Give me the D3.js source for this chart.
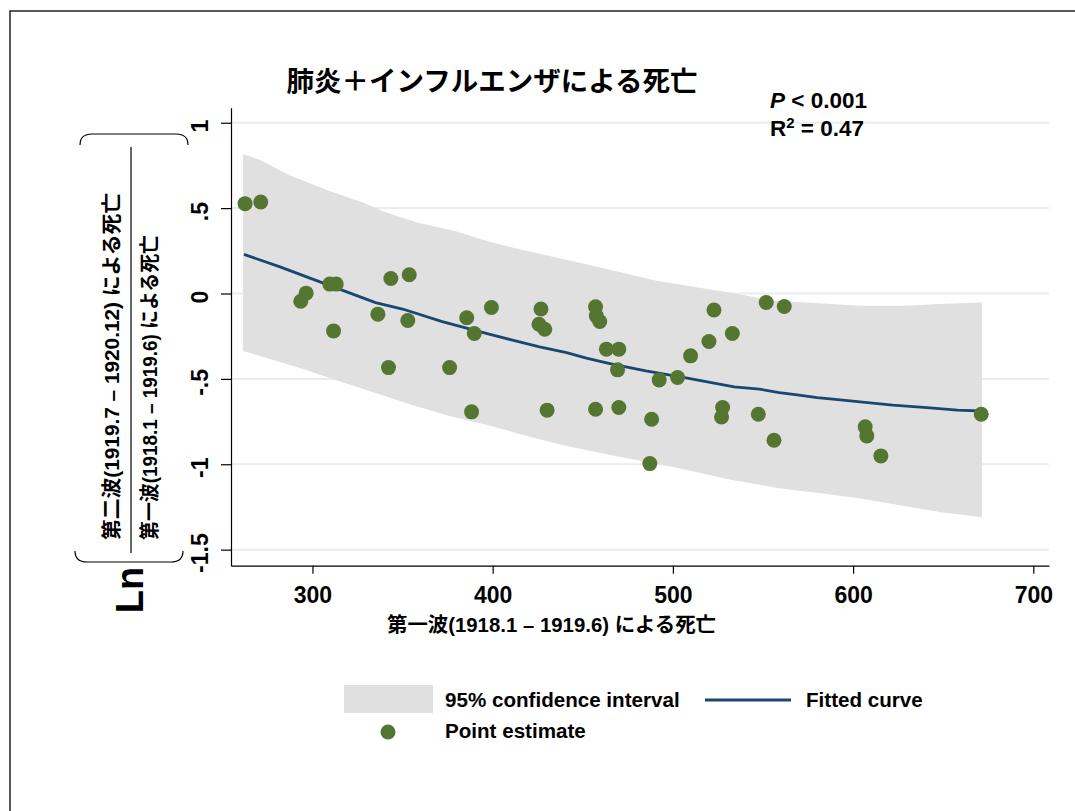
<!DOCTYPE html>
<html><head><meta charset="utf-8">
<script src="https://cdn.jsdelivr.net/npm/d3@7"></script>
<style>
body{margin:0;background:#fff}
svg{display:block}
text{font-family:"Liberation Sans",Arial,"Noto Sans CJK JP",sans-serif;font-weight:bold;fill:#000}
</style>
</head><body>
<svg id="chart" width="1075" height="811"></svg>
<script>
// ---- data ----
const firstWave = [262.6,271.3,296.5,293.5,309.6,313.2,311.7,343.5,353.7,336.3,352.9,385.6,389.8,399.3,342.2,376.1,
  426.8,425.7,428.9,388.3,430.2,457.1,457.5,459.4,463.1,470.0,469.3,492.4,502.6,509.8,520.0,522.8,533.0,551.8,561.8,
  457.1,470.0,488.2,527.6,527.0,547.4,556.1,487.2,606.7,607.6,615.4,671.1];
const lnRatio = [0.526,0.536,0.002,-0.045,0.055,0.055,-0.219,0.088,0.110,-0.121,-0.158,-0.142,-0.234,-0.082,-0.434,-0.434,
  -0.091,-0.180,-0.209,-0.693,-0.683,-0.078,-0.131,-0.164,-0.326,-0.326,-0.447,-0.506,-0.492,-0.365,-0.281,-0.097,-0.234,-0.053,-0.076,
  -0.678,-0.668,-0.736,-0.668,-0.723,-0.707,-0.859,-0.996,-0.781,-0.834,-0.951,-0.707];

const fitX = [262,282,309,335,350,372,398,411,426,441,452,465,485,508,534,548,559,569,580,593,608,622,641,658,671];
const fitY = [0.229,0.156,0.049,-0.053,-0.091,-0.165,-0.238,-0.273,-0.312,-0.346,-0.379,-0.41,-0.453,-0.496,-0.547,
  -0.56,-0.58,-0.594,-0.61,-0.623,-0.639,-0.654,-0.668,-0.683,-0.688];

const ciUpperX = [261.5,271,287,309,328,339,358,380,395,409,450,491,537,556,574,604,630,648,671.5];
const ciUpperY = [0.817,0.782,0.694,0.602,0.533,0.481,0.416,0.363,0.313,0.274,0.175,0.074,-0.004,-0.043,-0.053,-0.072,-0.072,-0.062,-0.053];
const ciLowerX = [261.5,293,321,354,376,397,419,437,463,487,504,532,559,582,604,626,648,671.5];
const ciLowerY = [-0.336,-0.437,-0.535,-0.648,-0.717,-0.77,-0.834,-0.883,-0.941,-0.99,-1.025,-1.09,-1.14,-1.17,-1.2,-1.24,-1.28,-1.31];

const xTicks = [300,400,500,600,700];
const yTicks = [1,0.5,0,-0.5,-1,-1.5];
const yTickLabels = ["1",".5","0","-.5","-1","-1.5"];

const title = "肺炎＋インフルエンザによる死亡";
const xLabel = "第一波(1918.1 – 1919.6) による死亡";
const yLabelNum = "第二波(1919.7 – 1920.12) による死亡";
const yLabelDen = "第一波(1918.1 – 1919.6) による死亡";
const legendLabels = ["95% confidence interval","Fitted curve","Point estimate"];

// ---- colours ----
const bandColor = "#e0e0e0", lineColor = "#1a476f", pointColor = "#557630", gridColor = "#e6eef0";

const svg = d3.select("#chart");
svg.append("rect").attr("x",10).attr("y",11).attr("width",1200).attr("height",900)
  .attr("fill","none").attr("stroke","#000").attr("stroke-width",1.3);

const x = d3.scaleLinear().domain([254.8, 708.7]).range([231, 1049]);
const y = d3.scaleLinear().domain([-1.594, 1.088]).range([565.7, 107.7]);

// gridlines
svg.append("g").selectAll("line").data(yTicks).join("line")
  .attr("x1",232).attr("x2",1049).attr("y1",d=>y(d)).attr("y2",d=>y(d))
  .attr("stroke",gridColor).attr("stroke-width",2);

// CI band
const upper = ciUpperX.map((v,i)=>[x(v),y(ciUpperY[i])]);
const lower = ciLowerX.map((v,i)=>[x(v),y(ciLowerY[i])]).reverse();
svg.append("path").attr("d", d3.line()(upper.concat(lower)) + "Z").attr("fill",bandColor);

// fitted curve
svg.append("path").datum(fitX.map((v,i)=>[v,fitY[i]]))
  .attr("d", d3.line().x(d=>x(d[0])).y(d=>y(d[1])))
  .attr("fill","none").attr("stroke",lineColor).attr("stroke-width",2.8);

// points
svg.append("g").selectAll("circle").data(firstWave.map((v,i)=>[v,lnRatio[i]])).join("circle")
  .attr("cx",d=>x(d[0])).attr("cy",d=>y(d[1])).attr("r",7.5).attr("fill",pointColor);

// axes
const yAxis = svg.append("g").attr("transform","translate(231,0)")
  .call(d3.axisLeft(y).tickValues(yTicks).tickSize(10).tickSizeOuter(0).tickFormat((d,i)=>yTickLabels[i]));
yAxis.selectAll("text").attr("x",null).attr("dy",null).attr("text-anchor","middle")
  .attr("transform","translate(-23,3) rotate(-90)").style("font-size","23px").attr("fill","#000");
const xAxis = svg.append("g").attr("transform","translate(0,565.7)")
  .call(d3.axisBottom(x).tickValues(xTicks).tickSize(8).tickSizeOuter(0));
xAxis.selectAll("text").attr("y",37).attr("dy",null).style("font-size","23px").attr("fill","#000");
svg.selectAll(".domain, .tick line").attr("stroke","#000").attr("stroke-width",1.2);

// title
svg.append("text").attr("x",492).attr("y",91).attr("text-anchor","middle").style("font-size","27.5px").text(title);

// annotations
const pt = svg.append("text").attr("x",770).attr("y",108).style("font-size","22.5px");
pt.append("tspan").style("font-style","italic").text("P");
pt.append("tspan").text(" < 0.001");
const rt = svg.append("text").attr("x",770).attr("y",136).style("font-size","22.5px");
rt.append("tspan").text("R");
rt.append("tspan").attr("dy",-8).style("font-size","15px").text("2");
rt.append("tspan").attr("dy",8).text(" = 0.47");

// x label
svg.append("text").attr("x",387).attr("y",632).style("font-size","20px")
  .attr("textLength",329).attr("lengthAdjust","spacingAndGlyphs").text(xLabel);

// y label (fraction)
svg.append("text").attr("transform","translate(119,540) rotate(-90)").style("font-size","20px")
  .attr("textLength",347).attr("lengthAdjust","spacingAndGlyphs").text(yLabelNum);
svg.append("text").attr("transform","translate(157,540) rotate(-90)").style("font-size","20px")
  .attr("textLength",305).attr("lengthAdjust","spacingAndGlyphs").text(yLabelDen);
svg.append("line").attr("x1",131).attr("x2",131).attr("y1",147).attr("y2",553).attr("stroke","#000").attr("stroke-width",1.2);
svg.append("path").attr("d","M80,145 Q80,134 92,134 L176,134 Q188,134 188,145")
  .attr("fill","none").attr("stroke","#000").attr("stroke-width",1.2);
svg.append("path").attr("d","M75,551 Q75,562 87,562 L171,562 Q183,562 183,551")
  .attr("fill","none").attr("stroke","#000").attr("stroke-width",1.2);
svg.append("text").attr("transform","translate(143,590) rotate(-90)").attr("text-anchor","middle")
  .style("font-size","38px").text("Ln");

// legend
svg.append("rect").attr("x",344).attr("y",685).attr("width",89).attr("height",28).attr("fill",bandColor);
svg.append("text").attr("x",445).attr("y",707).style("font-size","20.6px").text(legendLabels[0]);
svg.append("line").attr("x1",705).attr("x2",791).attr("y1",700).attr("y2",700).attr("stroke",lineColor).attr("stroke-width",2.8);
svg.append("text").attr("x",806).attr("y",707).style("font-size","20.6px").text(legendLabels[1]);
svg.append("circle").attr("cx",388).attr("cy",732).attr("r",7.5).attr("fill",pointColor);
svg.append("text").attr("x",445).attr("y",738).style("font-size","20.6px").text(legendLabels[2]);
</script>
</body></html>
